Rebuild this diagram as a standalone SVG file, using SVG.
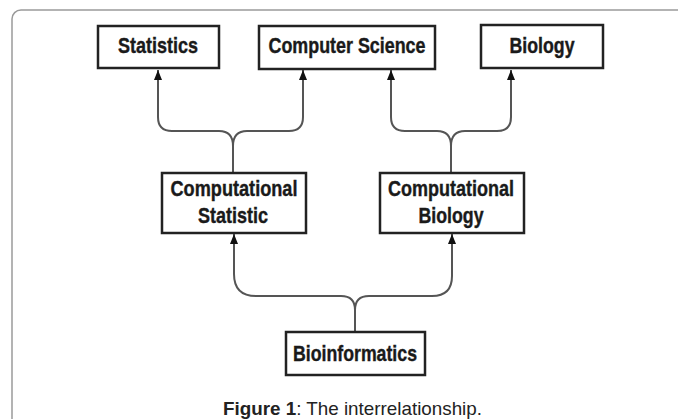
<svg xmlns="http://www.w3.org/2000/svg" width="678" height="419" viewBox="0 0 678 419">
<style>
.box{fill:#fff;stroke:#222;stroke-width:2.5}
.lbl{font-family:"Liberation Sans",Arial,sans-serif;font-weight:bold;font-size:22px;fill:#1a1a1a;stroke:#1a1a1a;stroke-width:0.4;text-anchor:middle}
.con{fill:none;stroke:#555;stroke-width:2}
.cap{font-family:"Liberation Sans",Arial,sans-serif;font-size:18.5px;fill:#222}
</style>
<defs>
<marker id="ah" viewBox="0 0 10 8" refX="10" refY="4" markerWidth="11" markerHeight="8" markerUnits="userSpaceOnUse" orient="auto">
<path d="M0,0 L10,4 L0,8 Z" fill="#111"/>
</marker>
</defs>
<rect x="12" y="10" width="720" height="460" rx="9" fill="#fff" stroke="#9a9a9a" stroke-width="1.5"/>
<g id="connectors">
<path class="con" d="M233,173 L233,146 Q233,131 219,131 L172,131 Q158,131 158,117 L158,70" marker-end="url(#ah)"/>
<path class="con" d="M233,146 Q233,131 247,131 L289,131 Q303,131 303,117 L303,70" marker-end="url(#ah)"/>
<path class="con" d="M451,173 L451,146 Q451,131 437,131 L405,131 Q391,131 391,117 L391,70" marker-end="url(#ah)"/>
<path class="con" d="M451,146 Q451,131 465,131 L497,131 Q511,131 511,117 L511,70" marker-end="url(#ah)"/>
<path class="con" d="M355,332 L355,310 Q355,296 341,296 L256,296 Q234,296 234,274 L234,234" marker-end="url(#ah)"/>
<path class="con" d="M355,310 Q355,296 369,296 L432,296 Q452,296 452,276 L452,234" marker-end="url(#ah)"/>
</g>
<g id="statistics">
<rect class="box" x="98" y="26" width="121" height="42"/>
<text class="lbl" x="158" y="53" textLength="80" lengthAdjust="spacingAndGlyphs">Statistics</text>
</g>
<g id="computer-science">
<rect class="box" x="259" y="26" width="176" height="43"/>
<text class="lbl" x="347" y="53" textLength="157" lengthAdjust="spacingAndGlyphs">Computer Science</text>
</g>
<g id="biology">
<rect class="box" x="481" y="25" width="122" height="43"/>
<text class="lbl" x="542" y="53" textLength="65" lengthAdjust="spacingAndGlyphs">Biology</text>
</g>
<g id="computational-statistic">
<rect class="box" x="162" y="173" width="144" height="60"/>
<text class="lbl" x="234" y="196" textLength="127" lengthAdjust="spacingAndGlyphs">Computational</text>
<text class="lbl" x="233" y="223" textLength="70" lengthAdjust="spacingAndGlyphs">Statistic</text>
</g>
<g id="computational-biology">
<rect class="box" x="380" y="173" width="144" height="60"/>
<text class="lbl" x="451" y="196" textLength="126" lengthAdjust="spacingAndGlyphs">Computational</text>
<text class="lbl" x="451" y="223" textLength="65" lengthAdjust="spacingAndGlyphs">Biology</text>
</g>
<g id="bioinformatics">
<rect class="box" x="286" y="332" width="139" height="43"/>
<text class="lbl" x="355" y="361" textLength="124" lengthAdjust="spacingAndGlyphs">Bioinformatics</text>
</g>
<text class="cap" x="223" y="415" textLength="259" lengthAdjust="spacingAndGlyphs"><tspan font-weight="bold">Figure 1</tspan>: The interrelationship.</text>
</svg>
